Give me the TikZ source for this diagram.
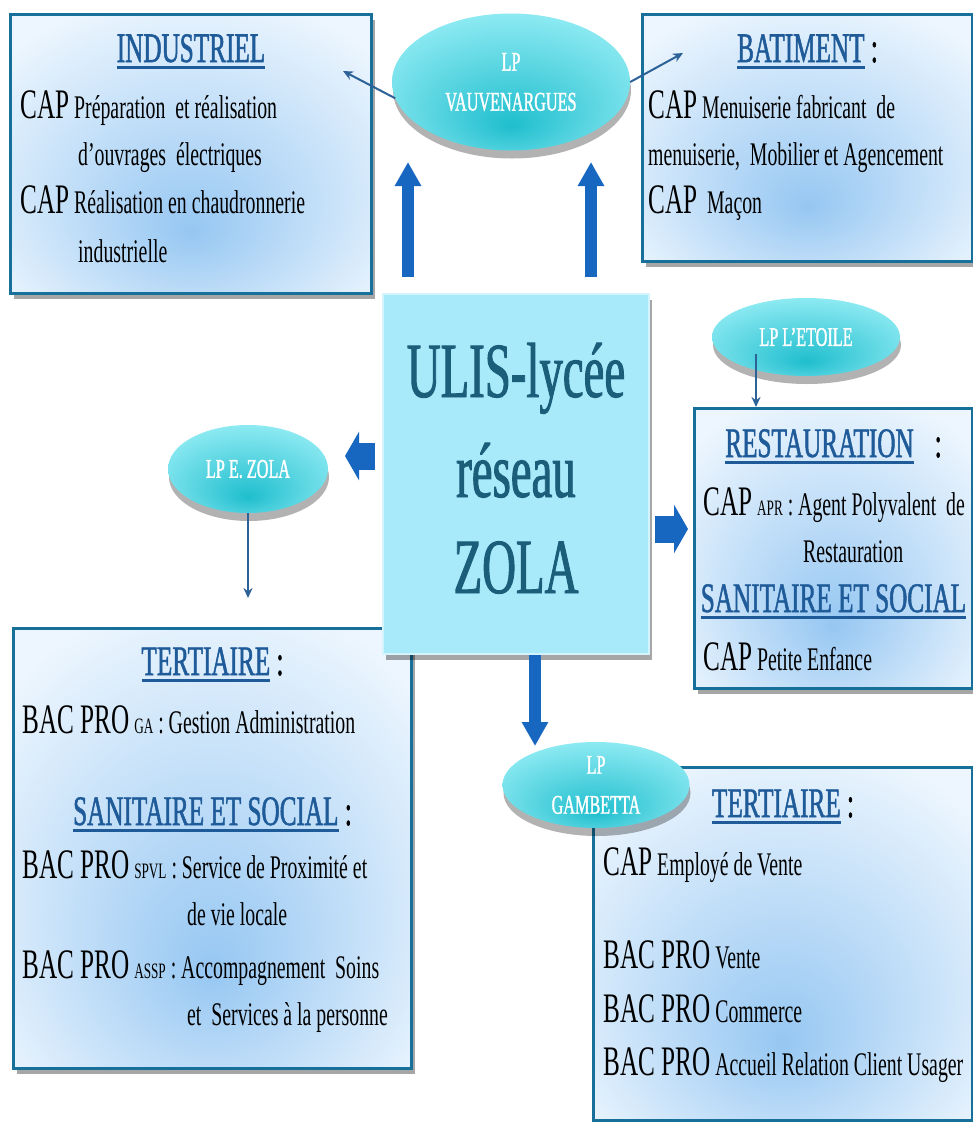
\documentclass[tikz,border=0pt]{standalone}
\usepackage{fontspec}
\setmainfont{Liberation Serif}[FakeStretch=0.6]
\newfontfamily\titrefont{Liberation Serif}[FakeStretch=0.6, FakeBold=1.2]
\usetikzlibrary{arrows.meta, positioning, shapes.geometric, shadows}

\definecolor{boxline}{HTML}{16709A}
\definecolor{boxmid}{HTML}{96C7F2}
\definecolor{boxedge}{HTML}{EDF6FE}
\definecolor{titleblue}{HTML}{1F5B99}
\definecolor{centrefill}{HTML}{A8E9FA}
\definecolor{centretext}{HTML}{1A5E7A}
\definecolor{lpdark}{HTML}{1FBECE}
\definecolor{lplight}{HTML}{90EBF3}
\definecolor{fleche}{HTML}{1767C1}
\definecolor{trait}{HTML}{2C6297}

\pgfdeclareradialshading{filiere}{\pgfpoint{0bp}{-14bp}}{color(0bp)=(boxmid); color(34bp)=(boxedge); color(50bp)=(boxedge)}
\pgfdeclareradialshading{lycee}{\pgfpoint{0bp}{-16bp}}{color(0bp)=(lpdark); color(32bp)=(lplight); color(50bp)=(lplight)}

\newcommand{\diplome}[1]{{\fontsize{42}{42}\selectfont #1}}
\newcommand{\sigle}[1]{{\fontsize{22}{22}\selectfont #1}}
\newsavebox{\soulbox}
\newcommand{\souligne}[1]{\sbox{\soulbox}{#1}\rlap{\rule[-7pt]{\wd\soulbox}{2.6pt}}\usebox{\soulbox}}

\begin{document}
\begin{tikzpicture}[
    x=1pt, y=-1pt,
    filiere/.style={draw=boxline, line width=3pt, rectangle, anchor=north west,
      inner sep=0pt, shading=filiere,
      drop shadow={shadow xshift=3pt, shadow yshift=-5pt, fill=black, opacity=0.35}},
    lp/.style={ellipse, shading=lycee, text=white,
      align=center, font=\titrefont\fontsize{27}{40}\selectfont, inner sep=0pt,
      drop shadow={shadow xshift=1pt, shadow yshift=-8pt, fill=black, opacity=0.3}},
    titre/.style={anchor=base, inner sep=0pt, text=titleblue,
      font=\titrefont\fontsize{42}{42}\selectfont},
    ligne/.style={anchor=base west, inner sep=0pt,
      font=\fontsize{33}{33}\selectfont},
    gros/.style={anchor=base, inner sep=0pt, text=centretext,
      font=\titrefont\fontsize{78}{78}\selectfont},
    lien/.style={draw=trait, line width=2pt, -{Stealth[length=10pt, width=9pt]}},
    montee/.style={draw=fleche, line width=12pt, -{Triangle[width=25pt, length=24pt]}},
    cote/.style={draw=fleche, line width=27pt, -{Triangle[width=48pt, length=14pt]}}
  ]
  \useasboundingbox[fill=white] (0,0) rectangle (973,1122);

  % filieres
  \node[filiere, minimum width=361pt, minimum height=279pt] (indus)  at (9,13)   {};
  \node[filiere, minimum width=330pt, minimum height=247pt] (bat)    at (641,13) {};
  \node[filiere, minimum width=278pt, minimum height=280pt] (resto)  at (693,407) {};
  \node[filiere, minimum width=398pt, minimum height=440pt] (tertG)  at (12,627) {};
  \node[filiere, minimum width=379pt, minimum height=353pt] (tertD)  at (592,766) {};

  % reseau
  \node[rectangle, anchor=north west, fill=centrefill, draw=centrefill!50!white,
    line width=2pt, minimum width=266pt, minimum height=360pt,
    drop shadow={shadow xshift=3pt, shadow yshift=-6pt, fill=black, opacity=0.35}]
    (centre) at (382,293) {};
  \node[gros] (c1) at (centre.north |- 0,397) {ULIS-lycée};
  \node[gros] (c2) at (centre.north |- 0,497) {réseau};
  \node[gros] (c3) at (centre.north |- 0,593) {ZOLA};

  % lycees
  \node[lp, minimum width=238pt, minimum height=137pt] (vauv)   at (511,82)  {LP\\VAUVENARGUES};
  \node[lp, minimum width=188pt, minimum height=78pt]  (etoile) at (806,337) {LP L’ETOILE};
  \node[lp, minimum width=160pt, minimum height=88pt]  (ezola)  at (248,469) {LP E. ZOLA};

  % INDUSTRIEL
  \node[titre] (ti) at (indus.north |- 0,62) {\souligne{INDUSTRIEL}};
  \node[ligne] (i1) at (20,118)  {\diplome{CAP} Préparation\ \ et réalisation};
  \node[ligne] (i2) at (78,165)  {d’ouvrages\ \ électriques};
  \node[ligne] (i3) at (20,213)  {\diplome{CAP} Réalisation en chaudronnerie};
  \node[ligne] (i4) at (78,262)  {industrielle};

  % BATIMENT
  \node[titre] (tb) at (bat.north |- 0,62) {\souligne{BATIMENT} \textcolor{black}{:}};
  \node[ligne] (b1) at (648,118) {\diplome{CAP} Menuiserie fabricant\ \ de};
  \node[ligne] (b2) at (648,165) {menuiserie,\ \ Mobilier et Agencement};
  \node[ligne] (b3) at (648,213) {\diplome{CAP}\ \ Maçon};

  % RESTAURATION
  \node[titre] (tr) at (resto.north |- 0,457) {\souligne{RESTAURATION}\enspace\textcolor{black}{:}};
  \node[ligne] (r1) at (703,515) {\diplome{CAP} \sigle{APR} : Agent Polyvalent\ \ de};
  \node[ligne] (r2) at (803,562) {Restauration};
  \node[titre] (ts) at (resto.north |- 0,612) {\souligne{SANITAIRE ET SOCIAL}};
  \node[ligne] (r3) at (703,670) {\diplome{CAP} Petite Enfance};

  % TERTIAIRE gauche
  \node[titre] (tg) at (tertG.north |- 0,675) {\souligne{TERTIAIRE} \textcolor{black}{:}};
  \node[ligne] (g1) at (22,733)  {\diplome{BAC PRO} \sigle{GA} : Gestion Administration};
  \node[titre] (tgs) at (tertG.north |- 0,825) {\souligne{SANITAIRE ET SOCIAL} \textcolor{black}{:}};
  \node[ligne] (g2) at (22,878)  {\diplome{BAC PRO} \sigle{SPVL} : Service de Proximité et};
  \node[ligne] (g3) at (187,925) {de vie locale};
  \node[ligne] (g4) at (22,978)  {\diplome{BAC PRO} \sigle{ASSP} : Accompagnement\ \ Soins};
  \node[ligne] (g5) at (187,1025) {et\ \ Services à la personne};

  % TERTIAIRE droite
  \node[titre] (td) at (tertD.north |- 0,817) {\souligne{TERTIAIRE} \textcolor{black}{:}};
  \node[ligne] (d1) at (603,875)  {\diplome{CAP} Employé de Vente};
  \node[ligne] (d2) at (603,968)  {\diplome{BAC PRO} Vente};
  \node[ligne] (d3) at (603,1022) {\diplome{BAC PRO} Commerce};
  \node[ligne] (d4) at (603,1075) {\diplome{BAC PRO} Accueil Relation Client Usager};

  \node[lp, minimum width=187pt, minimum height=86pt] (gamb) at (596,785) {LP\\GAMBETTA};

  % fleches
  \coordinate (pIndus) at (343,71);
  \coordinate (pBat)   at (683,53);
  \coordinate (eDep)   at (756,354);
  \coordinate (pEzola) at (248,598);
  \coordinate (hautG)  at (408,162);
  \coordinate (hautD)  at (591,162);
  \coordinate (gauche) at (345,456);
  \coordinate (droite) at (688,529);
  \coordinate (bas)    at (535,746);

  \draw[lien] (vauv.188) -- (pIndus);
  \draw[lien] (vauv.east) -- (pBat);
  \draw[lien] (eDep) -- (eDep |- resto.north);
  \draw[lien] (ezola.south) -- (pEzola);

  \draw[montee, shorten <=16pt] (hautG |- centre.north) -- (hautG);
  \draw[montee, shorten <=16pt] (hautD |- centre.north) -- (hautD);
  \draw[montee] (bas |- centre.south) -- (bas);
  \draw[cote, shorten <=7pt] (centre.west |- gauche) -- (gauche);
  \draw[cote, shorten <=5pt] (centre.east |- droite) -- (droite);
\end{tikzpicture}
\end{document}
